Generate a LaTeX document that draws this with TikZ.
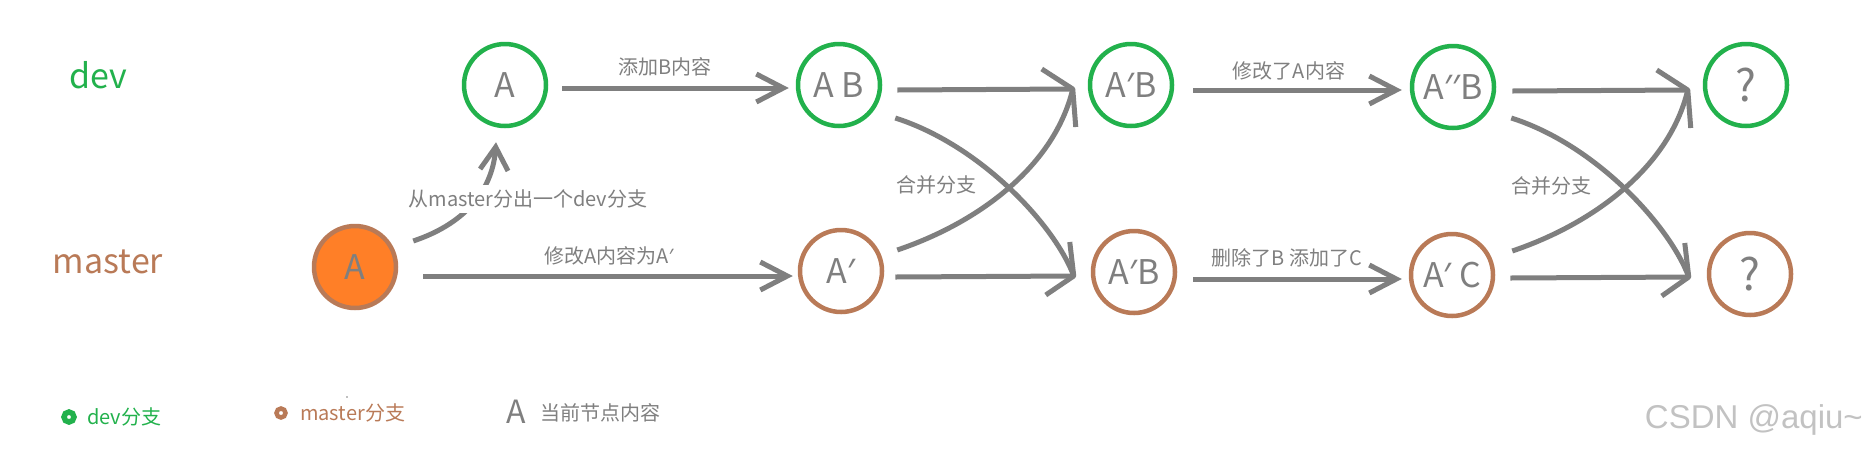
\documentclass[tikz,border=0pt]{standalone}
\usepackage{fontspec}
\setmainfont{Noto Sans CJK SC}
\newfontfamily\nsans{Noto Sans}
\newfontfamily\wmfont{Liberation Sans}
\usetikzlibrary{arrows.meta}
\definecolor{devgreen}{HTML}{22B14C}
\definecolor{mbrown}{HTML}{B97A57}
\definecolor{morange}{HTML}{FF7F27}
\definecolor{lgray}{HTML}{7F7F7F}
\definecolor{wmgray}{HTML}{C2C2C2}
\newcommand{\pr}{{\nsans ′}}
\begin{document}
\begin{tikzpicture}[x=1pt,y=-1pt,
  commit/.style={circle,draw,line width=4.5pt,minimum size=82pt,inner sep=0pt,text=lgray,font=\fontsize{34}{40}\selectfont},
  devc/.style={commit,draw=devgreen},
  mc/.style={commit,draw=mbrown},
  unknown/.style={font=\fontsize{44}{50}\selectfont},
  conn/.style={draw=lgray,line width=5pt},
  arr/.style={conn,-{Straight Barb[length=27pt,width=28pt,line width=5pt]}},
  barb/.style={draw=lgray,line width=5pt,line join=round},
  lbl/.style={text=lgray,font=\fontsize{20}{24}\selectfont,inner sep=1pt},
  branchname/.style={font=\fontsize{34}{40}\selectfont,inner sep=0pt,anchor=base},
  legtext/.style={font=\fontsize{20}{24}\selectfont,inner sep=0pt,anchor=west},
]
\useasboundingbox (0,0) rectangle (1868,451);

% branch names
\node[branchname,text=devgreen] (devname) at (98,88) {dev};
\node[branchname,text=mbrown] (mastername) at (108,273) {master};

% commits
\node[devc] (dA) at (505,85) {A};
\node[devc] (dAB) at (839,85) {A B};
\node[devc] (dApB) at (1131,85) {A\pr B};
\node[devc] (dAppB) at (1453,87) {A\pr\pr B};
\node[devc,unknown] (dQ) at (1746,85) {?};
\node[mc,fill=morange] (mA) at (355,267) {A};
\node[mc] (mAp) at (841,271) {A\pr};
\node[mc] (mApB) at (1134,272) {A\pr B};
\node[mc] (mApC) at (1452,275) {A\pr\ C};
\node[mc,unknown] (mQ) at (1750,274) {?};

% simple arrows
\draw[arr] ([xshift=14pt,yshift=-3pt]dA.east) -- ([xshift=-7pt,yshift=-3pt]dAB.west);
\draw[arr] ([xshift=25pt,yshift=-9pt]mA.east) -- ([xshift=-5pt,yshift=-5pt]mAp.west);
\draw[arr] ([xshift=19pt,yshift=-5pt]dApB.east) -- ([xshift=-8pt,yshift=-3pt]dAppB.west);
\draw[arr] ([xshift=16pt,yshift=-7pt]mApB.east) -- ([xshift=-7pt,yshift=-4pt]mApC.west);

% branch arrow
\draw[conn,-{Straight Barb[length=23pt,width=28pt,line width=5pt]}]
  ([xshift=15pt,yshift=26pt]mA.east) .. controls +(57,-19) and +(-3,43) .. ([xshift=-9pt,yshift=-14pt]dA.south);
\node[lbl,fill=white,inner sep=5pt] (lbranch) at (528,199) {从master分出一个dev分支};

% merge 1
\coordinate (t1) at ([xshift=-15pt,yshift=-4pt]dApB.west);
\coordinate (t2) at ([xshift=-17pt,yshift=-4pt]mApB.west);
\draw[conn] ([xshift=15pt,yshift=-5pt]dAB.east) -- (t1);
\draw[conn] ([xshift=11pt,yshift=-6pt]mAp.east) -- (t2);
\draw[conn] ([xshift=13pt,yshift=-33pt]dAB.east) .. controls +(85,27) and +(-19,-51) .. (t2);
\draw[conn] ([xshift=13pt,yshift=21pt]mAp.east) .. controls +(83,-28) and +(-18,76) .. (t1);
\draw[barb] (t1) ++(-31,-20) -- (t1) -- ++(3,38);
\draw[barb] (t2) ++(-4,-34) -- (t2) -- ++(-28,19);

% merge 2
\coordinate (t3) at ([xshift=-15pt,yshift=-5pt]dQ.west);
\coordinate (t4) at ([xshift=-18pt,yshift=-3pt]mQ.west);
\draw[conn] ([xshift=16pt,yshift=-4pt]dAppB.east) -- (t3);
\draw[conn] ([xshift=15pt,yshift=-3pt]mApC.east) -- (t4);
\draw[conn] ([xshift=15pt,yshift=-31pt]dAppB.east) .. controls +(85,27) and +(-19,-51) .. (t4);
\draw[conn] ([xshift=17pt,yshift=24pt]mApC.east) .. controls +(83,-28) and +(-18,76) .. (t3);
\draw[barb] (t3) ++(-31,-20) -- (t3) -- ++(3,38);
\draw[barb] (t4) ++(-4,-34) -- (t4) -- ++(-27,19);

% labels
\node[lbl] (l1) at (665,67) {添加B内容};
\node[lbl] (l2) at (609,256) {修改A内容为A\pr};
\node[lbl] (l3) at (936,185) {合并分支};
\node[lbl] (l4) at (1289,71) {修改了A内容};
\node[lbl] (l5) at (1287,258) {删除了B 添加了C};
\node[lbl] (l6) at (1551,186) {合并分支};

% legend
\draw[devgreen,line width=5.5pt] (69,417) circle[radius=5pt];
\node[legtext,text=devgreen] (legdev) at (87,417) {dev分支};
\draw[mbrown,line width=4.5pt] (281,413) circle[radius=4.5pt];
\node[legtext,text=mbrown] (legmaster) at (300,413) {master分支};
\fill[lgray] (347,397) circle[radius=0.9pt];
\node[text=lgray,font=\fontsize{32}{38}\selectfont,inner sep=0pt] (legA) at (516,412) {A};
\node[legtext,text=lgray] (legcontent) at (540,413) {当前节点内容};

% watermark
\node[text=wmgray,font=\wmfont\fontsize{33}{38}\selectfont,inner sep=0pt,anchor=base east] (wm) at (1863,428) {CSDN @aqiu\textasciitilde};
\end{tikzpicture}
\end{document}
